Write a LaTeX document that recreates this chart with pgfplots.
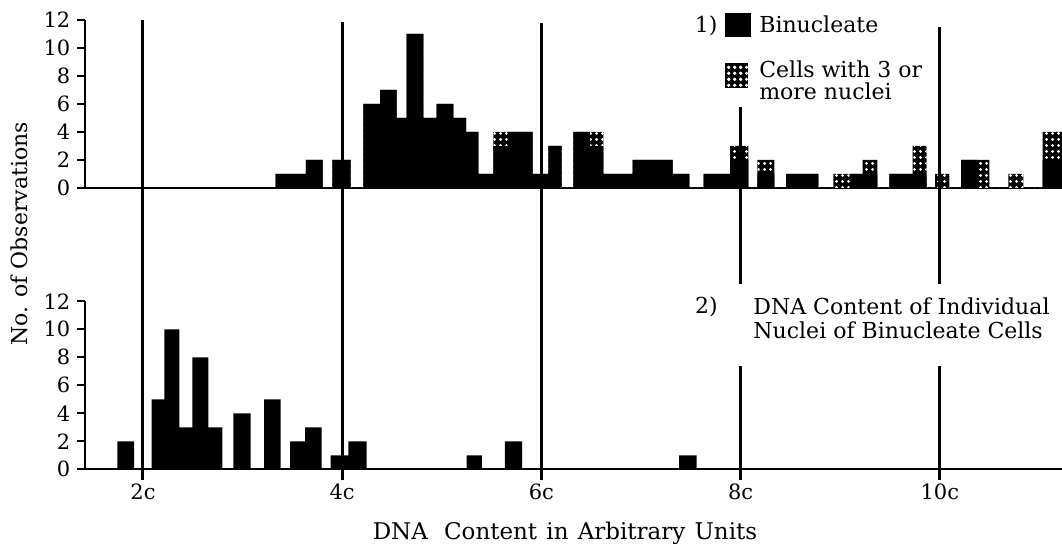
\documentclass[border=0pt]{standalone}
\usepackage{fontspec}
\setmainfont{DejaVu Serif}
\usepackage{pgfplots}
\usepackage{pgfplotstable}
\pgfplotsset{compat=1.18}
\usetikzlibrary{patterns.meta}

% white dots on black, for cells with 3 or more nuclei
\tikzdeclarepattern{
  name=wdots, type=uncolored,
  bottom left={(0pt,0pt)}, top right={(3pt,3pt)},
  tile size={(3pt,3pt)},
  code={\pgfpathcircle{\pgfpoint{1.5pt}{1.5pt}}{0.9pt}\pgfusepath{fill}}
}

% top panel: left bar edges, binucleate count B, total count T (B + 3 or more nuclei)
\pgfplotstableread{
x      B   T
3.332  1   1
3.484  1   1
3.636  2   2
3.804  0   0
3.901  2   2
4.085  0   0
4.212  6   6
4.380  7   7
4.547  5   5
4.648  11  11
4.814  5   5
4.949  6   6
5.115  5   5
5.243  4   4
5.367  1   1
5.517  3   4
5.660  4   4
5.913  1   1
6.069  3   3
6.204  0   0
6.320  4   4
6.488  3   4
6.622  1   1
6.917  2   2
7.318  1   1
7.485  0   0
7.630  1   1
7.894  2   3
8.078  0   0
8.168  1   2
8.338  0   0
8.456  1   1
8.780  0   0
8.931  0   1
9.098  1   1
9.226  1   2
9.373  0   0
9.493  1   1
9.728  1   3
9.868  0   0
9.952  0   1
10.095 0   0
10.213 2   2
10.373 0   2
10.497 0   0
10.688 0   1
10.839 0   0
11.033 2   4
11.227 0   0
}\topdata

% bottom panel: individual nuclei of binucleate cells
\pgfplotstableread{
x      n
1.742  2
1.910  0
2.087  5
2.214  10
2.364  3
2.495  8
2.656  3
2.796  0
2.907  4
3.081  0
3.215  5
3.383  0
3.476  2
3.627  3
3.794  0
3.885  1
4.061  2
4.246  0
5.249  1
5.403  0
5.633  2
5.807  0
7.383  1
7.558  0
}\botdata

\pgfplotsset{
  panel/.style={
    width=488.5pt, height=84pt, scale only axis,
    xmin=1.4177, xmax=11.227, ymin=0, ymax=12,
    axis x line=bottom, axis y line=left,
    axis line style={-, line width=1.2pt},
    ytick={0,2,...,12},
    tick align=outside,
    major tick length=3.8pt,
    tick style={line width=1.2pt, black},
    tick label style={font=\fontsize{10.5}{12}\selectfont},
    /pgf/number format/assume math mode=true,
    clip=false,
  }
}

\begin{document}
\begin{tikzpicture}
\begin{axis}[panel, name=upper, at={(0pt,0pt)}, anchor=south west,
  xtick=\empty, reverse legend,
  legend style={draw=none, fill=none, at={(axis cs:7.843,12.64)}, anchor=north west,
    inner sep=0pt, row sep=9pt, column sep=2pt,
    font=\fontsize{11}{11}\selectfont},
  legend cell align=left]
\addplot[ybar interval, fill=black, draw=none,
  postaction={pattern=wdots, pattern color=white},
  legend image code/.code={
    \fill[black] (0pt,-6.25pt) rectangle (11.5pt,6.25pt);
    \fill[pattern=wdots, pattern color=white] (1pt,-5.25pt) rectangle (10.5pt,5.25pt);}]
  table[x=x, y=T] {\topdata};
\addlegendentry{\parbox[c]{95pt}{\fontsize{11}{11}\selectfont Cells with 3 or\\more nuclei}}
\addplot[ybar interval, fill=black, draw=none,
  legend image code/.code={\fill[black] (0pt,-6pt) rectangle (13pt,6pt);}]
  table[x=x, y=B] {\topdata};
\addlegendentry{Binucleate}
\node[anchor=base west, font=\fontsize{11}{13}\selectfont] at (axis cs:7.47,11.14) {1)};
\coordinate (t2) at (axis cs:2,12);
\coordinate (t4) at (axis cs:4,11.85);
\coordinate (t6) at (axis cs:6,11.8);
\coordinate (t8) at (axis cs:8,5.8);
\coordinate (t10) at (axis cs:10,11.5);
\end{axis}

\begin{axis}[panel, name=lower, at={(0pt,-140.65pt)}, anchor=south west,
  xtick={2,4,6,8,10}, xticklabels={2c,4c,6c,8c,10c},
  xlabel={DNA\hspace{0.7em}Content\hspace{0.4em}in\hspace{0.4em}Arbitrary\hspace{0.4em}Units},
  xlabel style={font=\fontsize{11.5}{13}\selectfont, anchor=base,
    at={(axis description cs:0.4913,-0.42)}}]
\addplot[ybar interval, fill=black, draw=none] table[x=x, y=n] {\botdata};
\coordinate (b2) at (axis cs:2,-0.78);
\coordinate (b4) at (axis cs:4,-0.78);
\coordinate (b6) at (axis cs:6,-0.78);
\coordinate (b8) at (axis cs:8,-0.78);
\coordinate (b10) at (axis cs:10,-0.78);
\coordinate (g8a) at (axis cs:8,13.26);
\coordinate (g8b) at (axis cs:8,7.35);
\coordinate (g10a) at (axis cs:10,13.26);
\coordinate (g10b) at (axis cs:10,7.35);
\node[anchor=base west, font=\fontsize{11}{13}\selectfont] at (axis cs:7.472,11.12) {2)};
\node[anchor=north west, align=left, inner sep=0pt, font=\fontsize{11}{11.9}\selectfont]
  at (axis cs:8.125,12.26) {DNA Content of Individual\\Nuclei of Binucleate Cells};
\end{axis}

% reference lines at 2c ... 10c, running through both panels
\draw[line width=1.5pt] (t2) -- (b2) (t4) -- (b4) (t6) -- (b6);
\draw[line width=1.5pt] (t8) -- (g8a) (g8b) -- (b8);
\draw[line width=1.5pt] (t10) -- (g10a) (g10b) -- (b10);

\node[rotate=90, font=\fontsize{11}{13}\selectfont] at (-33pt,-23pt) {No. of Observations};
\pgfresetboundingbox
\useasboundingbox (-42.5pt,-178pt) rectangle (488.5pt,94pt);
\end{tikzpicture}
\end{document}
